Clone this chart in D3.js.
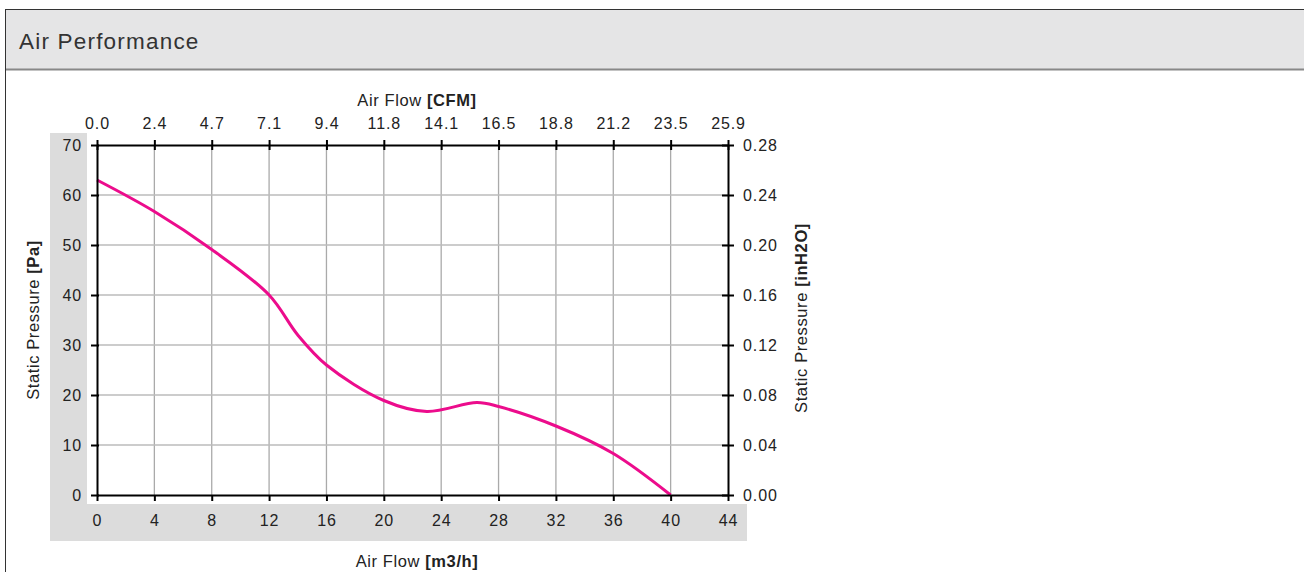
<!DOCTYPE html>
<html>
<head>
<meta charset="utf-8">
<script src="https://cdn.jsdelivr.net/npm/d3@7"></script>
<style>
html,body{margin:0;padding:0;background:#fff;}
svg{display:block;font-family:"Liberation Sans",Arial,Helvetica,sans-serif;}
</style>
</head>
<body>
<svg id="chart" width="1304" height="572"></svg>
<script>
// Data
const title = "Air Performance";
const flowM3h = [0, 4, 8, 12, 14, 16, 20, 23, 26.5, 28, 32, 36, 40];
const pressurePa = [63, 56.7, 49.1, 40, 32, 26, 18.9, 16.7, 18.5, 17.7, 13.8, 8.3, 0];
const bottomTicks = [0, 4, 8, 12, 16, 20, 24, 28, 32, 36, 40, 44];
const topTickLabels = ["0.0", "2.4", "4.7", "7.1", "9.4", "11.8", "14.1", "16.5", "18.8", "21.2", "23.5", "25.9"];
const leftTicks = [0, 10, 20, 30, 40, 50, 60, 70];
const rightTickLabels = ["0.00", "0.04", "0.08", "0.12", "0.16", "0.20", "0.24", "0.28"];

const svg = d3.select("#chart");

// Panel box and header
svg.append("rect").attr("x", 5.5).attr("y", 9.5).attr("width", 1310).attr("height", 570)
  .attr("fill", "#fff").attr("stroke", "#333").attr("stroke-width", 1);
svg.append("rect").attr("x", 6).attr("y", 10).attr("width", 1298).attr("height", 59)
  .attr("fill", "#e5e5e6");
svg.append("line").attr("x1", 6).attr("x2", 1304).attr("y1", 69.5).attr("y2", 69.5)
  .attr("stroke", "#888").attr("stroke-width", 2);
svg.append("text").attr("x", 19).attr("y", 49).attr("font-size", 22.5).attr("letter-spacing", 1.2)
  .attr("fill", "#333").text(title);

// Scales
const L = 97, R = 728, T = 145, B = 495;
const x = d3.scaleLinear().domain([0, 44]).range([L, R]);
const y = d3.scaleLinear().domain([0, 70]).range([B, T]);

// Gray bands
svg.append("rect").attr("x", 50).attr("y", 133).attr("width", 37).attr("height", 371).attr("fill", "#dcdcdc");
svg.append("rect").attr("x", 50).attr("y", 504).attr("width", 697).attr("height", 37).attr("fill", "#dcdcdc");

// Grid
const g = svg.append("g");
g.selectAll(".vg").data(bottomTicks.slice(1, -1)).join("line")
  .attr("x1", d => x(d)).attr("x2", d => x(d)).attr("y1", T).attr("y2", B)
  .attr("stroke", "#aaa").attr("stroke-width", 1.3);
g.selectAll(".hg").data(leftTicks.slice(1, -1)).join("line")
  .attr("x1", L).attr("x2", R).attr("y1", d => y(d)).attr("y2", d => y(d))
  .attr("stroke", "#bbb").attr("stroke-width", 1.3);

// Curve
const line = d3.line().x(d => x(d[0])).y(d => y(d[1])).curve(d3.curveCatmullRom.alpha(0.5));
svg.append("path").datum(flowM3h.map((v, i) => [v, pressurePa[i]]))
  .attr("d", line).attr("fill", "none").attr("stroke", "#ec0c8c").attr("stroke-width", 3)
  .attr("stroke-linejoin", "round");

// Axes
const axStyle = sel => {
  sel.select(".domain").attr("stroke", "#000").attr("stroke-width", 2);
  sel.selectAll(".tick line").attr("stroke", "#000").attr("stroke-width", 2);
  sel.selectAll(".tick text").attr("fill", "#222").attr("font-size", 16).attr("letter-spacing", 0.9)
    .attr("font-family", '"Liberation Sans",Arial,sans-serif');
};
const xb = svg.append("g").attr("transform", `translate(0,${B})`)
  .call(d3.axisBottom(x).tickValues(bottomTicks).tickSize(6).tickSizeOuter(0).tickPadding(14));
axStyle(xb);
const xt = svg.append("g").attr("transform", `translate(0,${T})`)
  .call(d3.axisTop(x).tickValues(bottomTicks).tickFormat((d, i) => topTickLabels[i]).tickSize(5).tickSizeOuter(0).tickPadding(11));
axStyle(xt);
xt.selectAll(".tick line").attr("y2", 5).attr("y1", -5);
const yl = svg.append("g").attr("transform", `translate(${L},0)`)
  .call(d3.axisLeft(y).tickValues(leftTicks).tickSize(6).tickSizeOuter(0).tickPadding(9));
axStyle(yl);
yl.selectAll(".tick line").attr("x1", 2);
const yr = svg.append("g").attr("transform", `translate(${R},0)`)
  .call(d3.axisRight(y).tickValues(leftTicks).tickFormat((d, i) => rightTickLabels[i]).tickSize(6).tickSizeOuter(0).tickPadding(9));
axStyle(yr);
yr.selectAll(".tick line").attr("x1", -6);

// Axis titles
function axisTitle(tr, a, b) {
  const t = svg.append("text").attr("transform", tr).attr("text-anchor", "middle")
    .attr("font-size", 16.5).attr("letter-spacing", 0.6).attr("fill", "#222");
  t.append("tspan").text(a);
  t.append("tspan").attr("font-weight", "bold").text(b);
}
axisTitle("translate(417,106)", "Air Flow ", "[CFM]");
axisTitle("translate(417,567)", "Air Flow ", "[m3/h]");
axisTitle("translate(39,320) rotate(-90)", "Static Pressure ", "[Pa]");
axisTitle("translate(807,318) rotate(-90)", "Static Pressure ", "[inH2O]");
</script>
</body>
</html>
